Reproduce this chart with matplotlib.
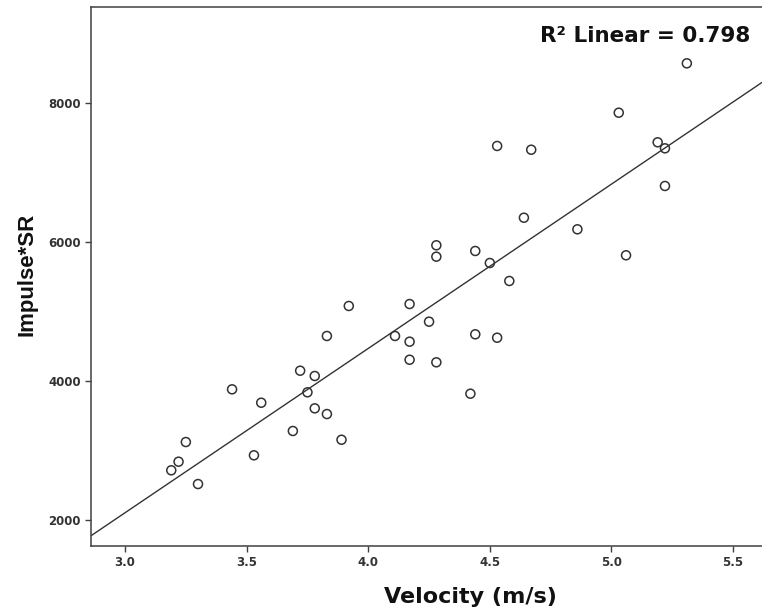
import matplotlib
matplotlib.use("Agg")
import matplotlib.pyplot as plt
import numpy as np

# Velocity (m/s) vs Impulse*SR
velocity = [5.31, 5.03, 4.53, 4.67, 5.19, 5.22, 5.22, 4.64, 4.86, 4.28,
            4.28, 4.44, 4.50, 5.06, 4.58, 3.92, 4.17, 3.83, 4.11, 4.25,
            4.17, 4.44, 4.53, 3.72, 3.78, 3.44, 3.75, 3.56, 3.78, 3.83,
            4.17, 4.28, 4.42, 3.69, 3.25, 3.89, 3.53, 3.22, 3.19, 3.30]
impulse_sr = [8576, 7865, 7386, 7332, 7439, 7352, 6810, 6353, 6186, 5956,
              5792, 5874, 5701, 5812, 5442, 5082, 5110, 4650, 4650, 4856,
              4568, 4674, 4625, 4150, 4074, 3882, 3839, 3689, 3608, 3526,
              4308, 4271, 3819, 3282, 3123, 3156, 2932, 2840, 2716, 2518]

x_ticks = [3.0, 3.5, 4.0, 4.5, 5.0, 5.5]
y_ticks = [2000, 4000, 6000, 8000]
r2_label = "R² Linear = 0.798"

plt.rcParams['font.family'] = ['DejaVu Sans']
fig = plt.figure(figsize=(7.62, 6.09), dpi=100)
ax = fig.add_axes([91 / 762, 63 / 609, (762 - 91) / 762, (546 - 7) / 609])

ax.scatter(velocity, impulse_sr, s=42, facecolors='none', edgecolors='#333333',
           linewidths=1.1, zorder=3)

# fit line across the whole x range
slope, intercept = np.polyfit(velocity, impulse_sr, 1)
xlim = (2.860, 5.619)
xs = np.array(xlim)
ax.plot(xs, slope * xs + intercept, color='#333333', linewidth=1.0, zorder=2)

ax.set_xlim(*xlim)
ax.set_ylim(1626, 9387)
ax.set_xticks(x_ticks)
ax.set_xticklabels([f"{v:.1f}" for v in x_ticks])
ax.set_yticks(y_ticks)
ax.set_yticklabels([str(v) for v in y_ticks])

for side in ['left', 'bottom', 'top']:
    ax.spines[side].set_linewidth(1.1)
    ax.spines[side].set_color('#404040')
ax.spines['right'].set_visible(False)

ax.tick_params(direction='out', length=4.5, width=1.0, color='#404040',
               labelsize=8.5, labelcolor='#333333', pad=3)
for lbl in ax.get_xticklabels() + ax.get_yticklabels():
    lbl.set_fontweight('bold')

fig.text(470 / 762, 6 / 609, "Velocity (m/s)", ha='center', va='baseline',
         fontsize=16, fontweight='bold', color='#111111')
fig.text(27 / 762, (609 - 274) / 609, "Impulse*SR", ha='center', va='center',
         rotation=90, fontsize=16, fontweight='bold', color='#111111',
         family=['Liberation Sans', 'DejaVu Sans'])
fig.text(750 / 762, (609 - 42) / 609, r2_label, ha='right', va='baseline',
         fontsize=15.5, fontweight='bold', color='#111111')

fig.savefig("out.png", dpi=100, facecolor='white')
plt.close(fig)
